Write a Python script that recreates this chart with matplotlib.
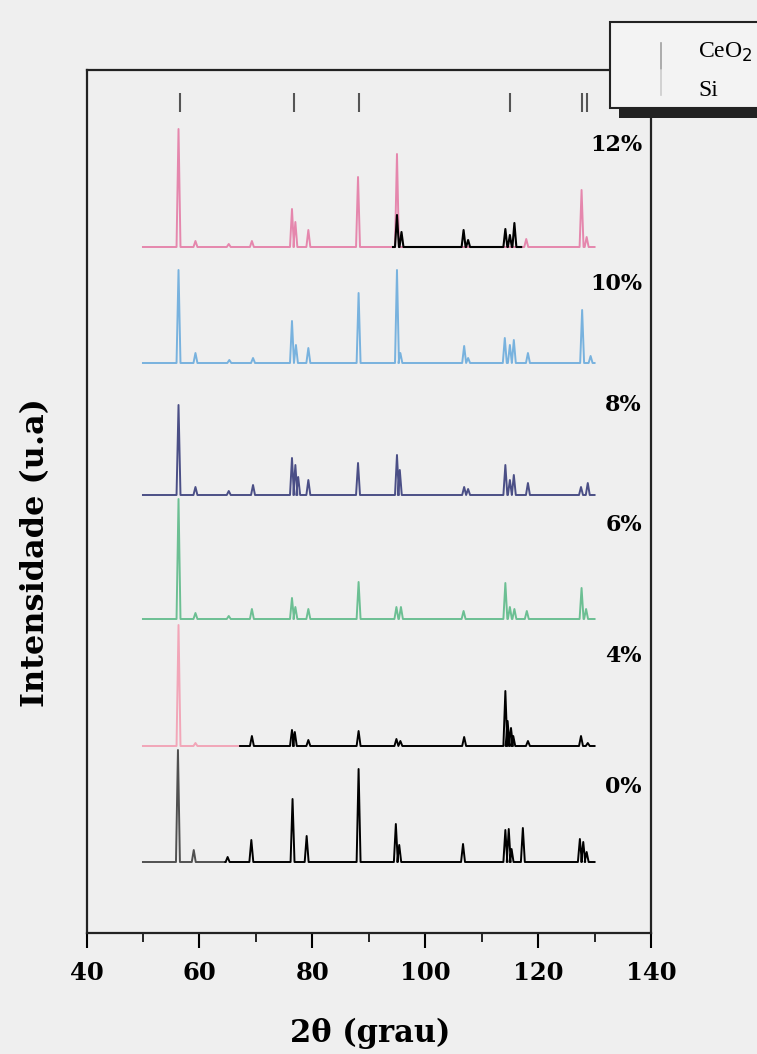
import numpy as np
import matplotlib.pyplot as plt
from matplotlib.patches import Rectangle
from matplotlib.lines import Line2D

plt.rcParams['font.family'] = ['DejaVu Serif']

# 2theta range measured for every pattern
tt_start, tt_end = 50, 130

# sample labels and vertical offsets of each pattern (a.u.)
samples = ['0%', '4%', '6%', '8%', '10%', '12%']
offsets = [71, 187, 314, 438, 570, 686]
label_y = [146, 277, 408, 528, 649, 788]

pos_0 = [56.2, 59.0, 65.0, 69.2, 76.5, 79.0, 88.2, 94.8, 95.4, 106.7, 114.2, 114.8, 115.3, 117.3, 127.4, 128.0, 128.6]
int_0 = [112, 12, 5, 22, 63, 26, 93, 38, 17, 18, 32, 33, 13, 34, 23, 20, 10]

pos_4 = [56.3, 59.3, 69.3, 76.4, 76.9, 79.3, 88.2, 94.9, 95.6, 106.9, 114.2, 114.6, 115.2, 115.6, 118.2, 127.6, 128.8]
int_4 = [121, 3, 10, 16, 14, 6, 15, 7, 5, 9, 55, 25, 18, 10, 5, 10, 3]

pos_6 = [56.3, 59.3, 65.2, 69.3, 76.4, 77.0, 79.3, 88.2, 94.9, 95.7, 106.8, 114.2, 115.0, 115.8, 118.0, 127.7, 128.5]
int_6 = [120, 6, 3, 10, 21, 12, 10, 37, 12, 12, 8, 36, 12, 10, 8, 31, 10]

pos_8 = [56.3, 59.3, 65.2, 69.5, 76.4, 77.0, 77.5, 79.3, 88.1, 95.0, 95.5, 106.9, 107.6, 114.2, 115.0, 115.7, 118.2, 127.6, 128.8]
int_8 = [90, 8, 4, 10, 37, 30, 18, 15, 32, 40, 25, 8, 6, 30, 15, 20, 12, 8, 12]

pos_10 = [56.3, 59.3, 65.3, 69.5, 76.4, 77.1, 79.3, 88.2, 95.0, 95.6, 106.9, 107.6, 114.1, 115.0, 115.7, 118.2, 127.8, 129.3]
int_10 = [93, 10, 3, 5, 42, 18, 15, 70, 93, 10, 17, 5, 25, 18, 23, 10, 53, 7]

pos_12 = [56.3, 59.3, 65.2, 69.3, 76.4, 77.0, 79.3, 88.1, 95.0, 117.9, 127.7, 128.6]
int_12 = [118, 6, 3, 6, 38, 25, 17, 70, 93, 8, 57, 10]
# black overlay drawn on the 12% pattern
pos_12b = [95.0, 95.8, 106.8, 107.6, 114.2, 115.0, 115.8]
int_12b = [32, 15, 17, 7, 18, 12, 24]

# reference line positions marked at the top
ref_pos = [56.5, 76.8, 88.3, 115.0, 127.7, 128.6]


def trace(pos, inten, lo, hi, w=0.35):
    # polyline with one narrow spike per peak
    x, y = [lo], [0]
    for p, h in zip(pos, inten):
        if lo < p < hi:
            x += [p - w, p, p + w]
            y += [0, h, 0]
    x.append(hi)
    y.append(0)
    return np.array(x), np.array(y)


bg = '#efefef'
fig = plt.figure(figsize=(7.57, 10.54), dpi=100, facecolor=bg)
ax = fig.add_axes([86.5 / 757, 1 - 933 / 1054, (651 - 86.5) / 757, (933 - 70) / 1054])
ax.set_facecolor(bg)

# (segment start, segment end, colour) for each pattern
segments = {
    '0%': [(tt_start, 64.6, '#505050'), (64.6, tt_end, 'black')],
    '4%': [(tt_start, 67.2, '#f2a6b8'), (67.2, tt_end, 'black')],
    '6%': [(tt_start, tt_end, '#6cbf93')],
    '8%': [(tt_start, tt_end, '#4b4f86')],
    '10%': [(tt_start, tt_end, '#78b2de')],
    '12%': [(tt_start, tt_end, '#e587ad')],
}
peaks = {'0%': (pos_0, int_0), '4%': (pos_4, int_4), '6%': (pos_6, int_6),
         '8%': (pos_8, int_8), '10%': (pos_10, int_10), '12%': (pos_12, int_12)}

for name, off in zip(samples, offsets):
    pos, inten = peaks[name]
    for lo, hi, col in segments[name]:
        x, y = trace(pos, inten, lo, hi)
        ax.plot(x, y + off, color=col, lw=1.4)

x, y = trace(pos_12b, int_12b, 94.3, 117.0)
ax.plot(x, y + offsets[-1], color='black', lw=1.5)

for name, ly in zip(samples, label_y):
    ax.text(138.4, ly, name, ha='right', va='center', fontsize=16, fontweight='bold')

ax.vlines(ref_pos, 821, 840, color='#555555', lw=1.5)

ax.set_xlim(40, 140)
ax.set_ylim(0, 863)
ax.set_xticks(np.arange(40, 141, 20))
ax.set_xticks(np.arange(50, 131, 20), minor=True)
ax.set_yticks([])
ax.tick_params(axis='x', which='major', direction='out', length=11, width=1.5, pad=9,
               labelsize=17.5)
ax.tick_params(axis='x', which='minor', direction='out', length=6.5, width=1.2)
for lab in ax.get_xticklabels():
    lab.set_fontweight('bold')
for s in ax.spines.values():
    s.set_linewidth(1.6)
    s.set_color('#222222')

fig.text(370 / 757, 1 - 1033 / 1054, '2θ (grau)', ha='center', va='center',
         fontsize=22, fontweight='bold')
fig.text(36 / 757, 1 - 553 / 1054, 'Intensidade (u.a)', rotation=90, ha='center', va='center',
         fontsize=23, fontweight='bold')

# legend box in the upper right corner, cut by the figure edge
fig.add_artist(Rectangle((610 / 757, 1 - 108 / 1054), 160 / 757, 86 / 1054,
                         transform=fig.transFigure, facecolor='#f3f3f3', edgecolor='#222222', lw=1.5))
fig.add_artist(Rectangle((619 / 757, 1 - 118 / 1054), 150 / 757, 10 / 1054,
                         transform=fig.transFigure, facecolor='#222222', edgecolor='none'))
fig.add_artist(Line2D([661 / 757, 661 / 757], [1 - 43 / 1054, 1 - 69 / 1054],
                      transform=fig.transFigure, color='#a0a0a0', lw=1.2))
fig.add_artist(Line2D([661 / 757, 661 / 757], [1 - 70 / 1054, 1 - 95 / 1054],
                      transform=fig.transFigure, color='#cccccc', lw=1.2))
fig.text(698 / 757, 1 - 52 / 1054, r'CeO$_2$', ha='left', va='center', fontsize=17,
         family=['Liberation Serif'])
fig.text(698 / 757, 1 - 90 / 1054, 'Si', ha='left', va='center', fontsize=17,
         family=['Liberation Serif'])

fig.savefig('out.png', dpi=100, facecolor=bg)
